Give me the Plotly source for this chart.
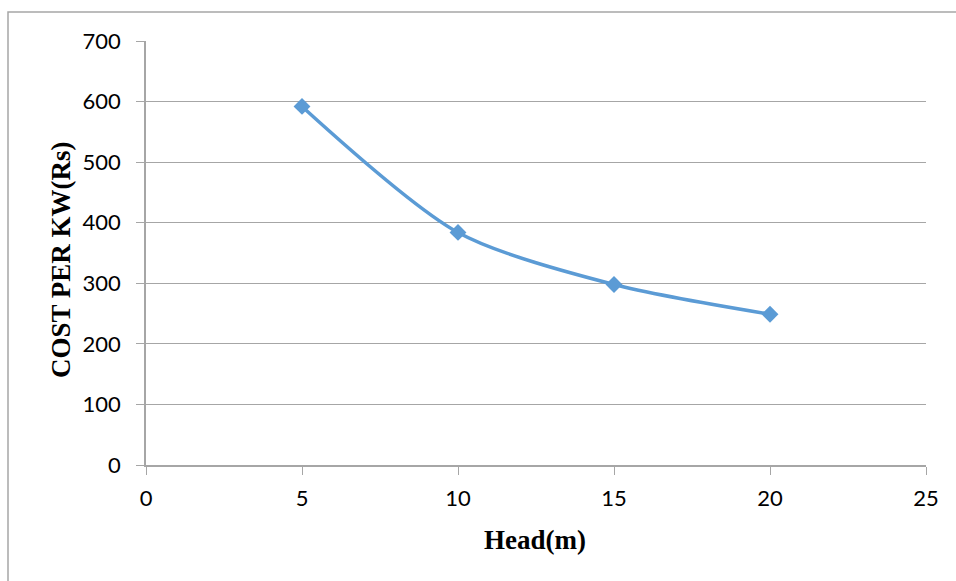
import plotly.graph_objects as go

head_m = [5, 10, 15, 20]
cost_per_kw = [592, 384, 298, 249]
x_ticks = [0, 5, 10, 15, 20, 25]
y_ticks = [0, 100, 200, 300, 400, 500, 600, 700]

W, H = 956, 581
ml, mr, mt, mb = 146, 30, 41, 116
pw, ph = W - ml - mr, H - mt - mb

def px_x(p):
    return (p - ml) / pw

def px_y(p):
    return (H - mb - p) / ph

fig = go.Figure()
fig.add_trace(go.Scatter(
    x=head_m, y=cost_per_kw, mode="lines+markers",
    line=dict(color="#5B9BD5", width=3.5, shape="spline", smoothing=0.8),
    marker=dict(symbol="diamond", size=13, color="#5B9BD5"),
    showlegend=False,
))

axis_font = dict(family="Lato, Open Sans, sans-serif", size=22, color="#000")
title_font = dict(family="Liberation Serif, Times New Roman, serif", size=27, color="#000")
fig.update_layout(
    width=W, height=H,
    margin=dict(l=ml, r=mr, t=mt, b=mb),
    paper_bgcolor="white", plot_bgcolor="white",
    xaxis=dict(range=[0, 25], tickvals=x_ticks, ticks="outside", ticklen=8,
               tickcolor="#a6a6a6", showgrid=False, showline=True,
               linecolor="#a6a6a6", linewidth=1.5, zeroline=False,
               tickfont=axis_font, ticklabelstandoff=5),
    yaxis=dict(range=[0, 700], tickvals=y_ticks, ticks="outside", ticklen=8,
               tickcolor="#a6a6a6", showgrid=True, gridcolor="#a6a6a6",
               gridwidth=1.2, showline=True, linecolor="#a6a6a6", linewidth=1.5,
               zeroline=False, tickfont=axis_font, ticklabelstandoff=11),
    shapes=[dict(type="rect", xref="paper", yref="paper",
                 x0=px_x(8), x1=px_x(W + 20), y0=px_y(H + 20), y1=px_y(12),
                 line=dict(color="#a6a6a6", width=1.5), layer="below")],
    annotations=[
        dict(text="<b>Head(m)</b>", xref="paper", yref="paper",
             x=px_x(535), y=px_y(540), showarrow=False, font=title_font,
             xanchor="center", yanchor="middle"),
        dict(text="<b>COST PER KW(Rs)</b>", xref="paper", yref="paper",
             x=px_x(61), y=px_y(260), showarrow=False, textangle=-90,
             font=title_font, xanchor="center", yanchor="middle"),
    ],
)
fig.write_html("out.html")
